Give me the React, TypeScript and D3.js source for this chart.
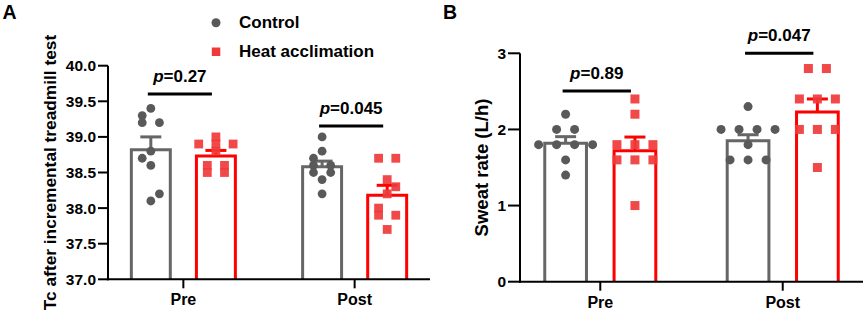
import React from "react";
import * as d3 from "d3";

// ---------- data ----------
const groups = ["Pre", "Post"];
const seriesNames = ["Control", "Heat acclimation"];

// Panel A: Tc after incremental treadmill test
const tcControlPre = [39.4, 39.3, 39.2, 39.2, 38.8, 38.7, 38.6, 38.2, 38.1];
const tcHeatPre = [39.0, 38.9, 38.9, 38.9, 38.8, 38.6, 38.6, 38.5, 38.5];
const tcControlPost = [39.0, 38.8, 38.7, 38.6, 38.6, 38.5, 38.5, 38.4, 38.2];
const tcHeatPost = [38.7, 38.7, 38.4, 38.3, 38.2, 38.0, 37.9, 37.9, 37.7];
const tcMeans = [[38.82, 38.73], [38.58, 38.18]];
const tcSem = [[0.18, 0.08], [0.08, 0.14]];
const tcPValues = ["0.27", "0.045"];
const tcTicks = [37.0, 37.5, 38.0, 38.5, 39.0, 39.5, 40.0];

// Panel B: Sweat rate
const srControlPre = [2.2, 2.0, 2.0, 1.8, 1.8, 1.8, 1.8, 1.6, 1.4];
const srHeatPre = [2.4, 2.2, 1.8, 1.8, 1.8, 1.6, 1.6, 1.6, 1.0];
const srControlPost = [2.3, 2.0, 2.0, 2.0, 2.0, 1.8, 1.6, 1.6, 1.6];
const srHeatPost = [2.8, 2.8, 2.4, 2.4, 2.4, 2.0, 2.0, 2.0, 1.5];
const srMeans = [[1.82, 1.72], [1.85, 2.23]];
const srSem = [[0.085, 0.18], [0.08, 0.17]];
const srPValues = ["0.89", "0.047"];
const srTicks = [0, 1, 2, 3];

const GRAY = "#666666";
const DOT = "#595959";
const RED = "#ff0000";
const SQ = "#f03a3a";
const FONT = "Liberation Sans, Arial, Helvetica, sans-serif";

type PanelProps = {
  letter: string;
  letterX: number;
  x0: number;
  x1: number;
  yTop: number;
  yBottom: number;
  domain: [number, number];
  ticks: number[];
  tickFmt: (v: number) => string;
  tickLen: number;
  label: string;
  labelX: number;
  labelSize: number;
  points: number[][][]; // [group][series][values]
  means: number[][];
  sems: number[][];
  pValues: string[];
  sigY: number[];
  r: number;
  h: number;
};

function swarm(values: number[], y: (v: number) => number, h: number, D: number) {
  const idx = values.map((v, i) => i).sort((a, b) => values[a] - values[b]);
  const placed: { x: number; y: number }[] = [];
  const out: number[] = new Array(values.length).fill(0);
  let lastSign = -1;
  for (const i of idx) {
    const py = y(values[i]);
    const cands: number[] = [0];
    for (let k = 1; k < 10; k++) {
      if (lastSign < 0) cands.push(k * h, -k * h);
      else cands.push(-k * h, k * h);
    }
    for (const c of cands) {
      const ok = placed.every((p) => Math.hypot(p.x - c, p.y - py) >= D);
      if (ok) {
        out[i] = c;
        placed.push({ x: c, y: py });
        if (c !== 0) lastSign = Math.sign(c);
        break;
      }
    }
  }
  const rows = d3.group(idx, (i) => values[i]);
  for (const [, members] of rows) {
    if (members.length > 1) {
      const m = d3.mean(members, (i) => out[i]) as number;
      members.forEach((i) => (out[i] -= m));
    }
  }
  return out;
}

function Panel(p: PanelProps) {
  const y = d3.scaleLinear().domain(p.domain).range([p.yBottom, p.yTop]);
  const x = d3.scalePoint<string>().domain(groups).range([p.x0, p.x1]).padding(0.44);
  const step = x.step();
  const off = 0.19 * step;
  const barW = 0.245 * step - 3;
  const sw = 3;
  return (
    <g fontFamily={FONT} fontWeight="bold">
      <text x={p.letterX} y={18.5} fontSize={19.5}>{p.letter}</text>
      <text
        transform={`translate(${p.labelX},${(p.yTop + p.yBottom) / 2}) rotate(-90)`}
        textAnchor="middle"
        fontSize={p.labelSize}
      >
        {p.label}
      </text>
      {groups.map((g, gi) =>
        [0, 1].map((si) => {
          const cx = (x(g) as number) + (si === 0 ? -off : off);
          const color = si === 0 ? GRAY : RED;
          const m = p.means[gi][si];
          const top = y(m);
          const errTop = y(m + p.sems[gi][si]);
          return (
            <g key={g + si}>
              <path
                d={`M${cx - barW / 2},${p.yBottom} V${top} H${cx + barW / 2} V${p.yBottom}`}
                fill="white"
                stroke={color}
                strokeWidth={sw}
              />
              <line x1={cx} x2={cx} y1={top} y2={errTop} stroke={color} strokeWidth={sw} />
              <line x1={cx - 10.5} x2={cx + 10.5} y1={errTop} y2={errTop} stroke={color} strokeWidth={sw} />
            </g>
          );
        })
      )}
      {groups.map((g, gi) =>
        [0, 1].map((si) => {
          const cx = (x(g) as number) + (si === 0 ? -off : off);
          const vals = p.points[gi][si];
          const offs = swarm(vals, y, p.h, p.r * 2.4);
          return vals.map((v, i) =>
            si === 0 ? (
              <circle key={`${g}${si}${i}`} cx={cx + offs[i]} cy={y(v)} r={p.r} fill={DOT} />
            ) : (
              <rect
                key={`${g}${si}${i}`}
                x={cx + offs[i] - p.r}
                y={y(v) - p.r}
                width={p.r * 2}
                height={p.r * 2}
                fill={SQ}
                fillOpacity={0.92}
              />
            )
          );
        })
      )}
      {groups.map((g, gi) => {
        const xa = (x(g) as number) - off - 3;
        const xb = (x(g) as number) + off - 4;
        const yy = p.sigY[gi];
        return (
          <g key={"sig" + g}>
            <line x1={xa} x2={xb} y1={yy} y2={yy} stroke="black" strokeWidth={3} />
            <text x={(xa + xb) / 2} y={yy - 12} textAnchor="middle" fontSize={17}>
              <tspan fontStyle="italic">p</tspan>
              <tspan>={p.pValues[gi]}</tspan>
            </text>
          </g>
        );
      })}
      <line x1={p.x0} x2={p.x0} y1={p.yTop} y2={p.yBottom + 1} stroke="black" strokeWidth={2} />
      <line x1={p.x0 - 1} x2={p.x1} y1={p.yBottom} y2={p.yBottom} stroke="black" strokeWidth={2} />
      {p.ticks.map((t) => (
        <g key={"t" + t}>
          <line x1={p.x0 - p.tickLen} x2={p.x0} y1={y(t)} y2={y(t)} stroke="black" strokeWidth={2} />
          <text x={p.x0 - p.tickLen - 2} y={y(t)} dy="0.36em" textAnchor="end" fontSize={15.5}>
            {p.tickFmt(t)}
          </text>
        </g>
      ))}
      {groups.map((g) => (
        <g key={"x" + g}>
          <line x1={x(g)} x2={x(g)} y1={p.yBottom} y2={p.yBottom + 9} stroke="black" strokeWidth={2} />
          <text x={x(g)} y={p.yBottom + 26} textAnchor="middle" fontSize={16}>{g}</text>
        </g>
      ))}
    </g>
  );
}

export default function App() {
  return (
    <svg width={865} height={314} style={{ display: "block", position: "absolute", left: 0, top: 0 }}>
      <rect width={865} height={314} fill="white" />
      <Panel
        letter="A"
        letterX={2.5}
        x0={108}
        x1={430}
        yTop={65.7}
        yBottom={279.3}
        domain={[37, 40]}
        ticks={tcTicks}
        tickFmt={d3.format(".1f")}
        tickLen={10}
        label="Tc after incremental treadmill test"
        labelX={56}
        labelSize={17.3}
        points={[[tcControlPre, tcHeatPre], [tcControlPost, tcHeatPost]]}
        means={tcMeans}
        sems={tcSem}
        pValues={tcPValues}
        sigY={[94, 126]}
        r={4.4}
        h={8.6}
      />
      <Panel
        letter="B"
        letterX={443}
        x0={520}
        x1={863}
        yTop={53.3}
        yBottom={281.7}
        domain={[0, 3]}
        ticks={srTicks}
        tickFmt={d3.format("d")}
        tickLen={12}
        label="Sweat rate (L/h)"
        labelX={488}
        labelSize={18.5}
        points={[[srControlPre, srHeatPre], [srControlPost, srHeatPost]]}
        means={srMeans}
        sems={srSem}
        pValues={srPValues}
        sigY={[91, 53.3]}
        r={4.5}
        h={9}
      />
      <g fontFamily={FONT} fontWeight="bold" fontSize={17}>
        <circle cx={216} cy={22.7} r={4.5} fill={DOT} />
        <text x={239} y={28.3}>{seriesNames[0]}</text>
        <rect x={211.8} y={47.5} width={8.5} height={8.5} fill={SQ} />
        <text x={239} y={57}>{seriesNames[1]}</text>
      </g>
    </svg>
  );
}
